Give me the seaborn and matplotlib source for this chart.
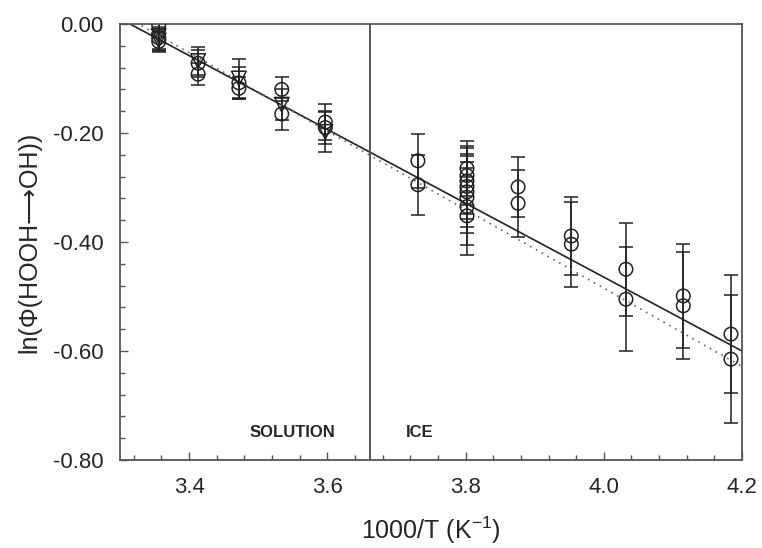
import numpy as np
import pandas as pd
import matplotlib
matplotlib.use("Agg")
import matplotlib.pyplot as plt
import seaborn as sns
from matplotlib.ticker import MultipleLocator

# Pontos em solucao (circulos)
sol_circ_x = [3.356, 3.356, 3.356, 3.413, 3.413, 3.472, 3.472, 3.534, 3.534, 3.597, 3.597]
sol_circ_y = [-0.003, -0.025, -0.032, -0.072, -0.092, -0.108, -0.118, -0.120, -0.165, -0.180, -0.190]
sol_circ_err = [0.02, 0.02, 0.02, 0.025, 0.02, 0.03, 0.02, 0.022, 0.03, 0.033, 0.03]

# Pontos em solucao (triangulos)
sol_tri_x = [3.356, 3.356, 3.413, 3.472, 3.534, 3.597]
sol_tri_y = [-0.022, -0.030, -0.068, -0.100, -0.148, -0.198]
sol_tri_err = [0.025, 0.02, 0.025, 0.035, 0.028, 0.037]

# Pontos no gelo
ice_x = [3.731, 3.731,
         3.802, 3.802, 3.802, 3.802, 3.802, 3.802, 3.802, 3.802,
         3.876, 3.876, 3.953, 3.953, 4.032, 4.032, 4.115, 4.115, 4.184, 4.184]
ice_y = [-0.251, -0.295,
         -0.265, -0.278, -0.288, -0.298, -0.308, -0.318, -0.335, -0.352,
         -0.299, -0.329, -0.389, -0.404, -0.450, -0.505, -0.499, -0.517, -0.569, -0.615]
ice_err = [0.05, 0.055,
           0.05, 0.055, 0.06, 0.06, 0.065, 0.065, 0.07, 0.072,
           0.055, 0.061, 0.072, 0.078, 0.085, 0.095, 0.095, 0.098, 0.108, 0.117]

# Ajustes lineares (inclinacao, intercepto)
fit_solid = (-0.6776, 2.2459)
fit_dotted = (-0.720, 2.3954)
fit_range = [3.3145, 4.2]
T_FUSAO = 1000 / 273.15

sns.set_theme(style="ticks")
plt.rcParams['font.family'] = ['Liberation Sans', 'DejaVu Sans']
plt.rcParams['mathtext.fontset'] = 'custom'
plt.rcParams['mathtext.rm'] = 'Liberation Sans'
plt.rcParams['mathtext.it'] = 'Liberation Sans'

fig = plt.figure(figsize=(7.62, 5.48), dpi=100)
ax = fig.add_axes([0.1575, 0.1606, 0.8163, 0.7956])

# Barras de erro
ebkw = dict(fmt='none', ecolor='#222222', elinewidth=1.1, capsize=5, capthick=1.1, zorder=2)
ax.errorbar(sol_circ_x, sol_circ_y, yerr=sol_circ_err, **ebkw)
ax.errorbar(sol_tri_x, sol_tri_y, yerr=sol_tri_err, **ebkw)
ax.errorbar(ice_x, ice_y, yerr=ice_err, **ebkw)

df_circ = pd.DataFrame({'x': sol_circ_x + ice_x, 'y': sol_circ_y + ice_y})
df_tri = pd.DataFrame({'x': sol_tri_x, 'y': sol_tri_y})
sns.scatterplot(data=df_circ, x='x', y='y', marker='o', s=95, facecolor='none',
                edgecolor='#222222', linewidth=1.1, ax=ax, zorder=3)
sns.scatterplot(data=df_tri, x='x', y='y', marker='v', s=110, facecolor='none',
                edgecolor='#222222', linewidth=1.1, ax=ax, zorder=3)

# Retas de ajuste
xs = np.linspace(fit_range[0], fit_range[1], 50)
sns.lineplot(x=xs, y=fit_solid[0] * xs + fit_solid[1], color='#222222', linewidth=1.2, ax=ax)
sns.lineplot(x=xs, y=fit_dotted[0] * xs + fit_dotted[1], color='#666666', linewidth=1.2,
             linestyle=(0, (1, 3)), ax=ax)

ax.axvline(T_FUSAO, color='#555555', linewidth=1.4)
ax.text(3.550, -0.75, 'SOLUTION', fontsize=12, fontweight='bold', ha='center', va='center')
ax.text(3.713, -0.75, 'ICE', fontsize=12, fontweight='bold', ha='left', va='center')

ax.set_xlim(3.3, 4.2)
ax.set_ylim(-0.8, 0.0)
ax.xaxis.set_major_locator(MultipleLocator(0.2))
ax.xaxis.set_minor_locator(MultipleLocator(0.04))
ax.yaxis.set_major_locator(MultipleLocator(0.2))
ax.yaxis.set_minor_locator(MultipleLocator(0.04))
ax.set_xticks([3.4, 3.6, 3.8, 4.0, 4.2])
ax.set_xticklabels(['3.4', '3.6', '3.8', '4.0', '4.2'])
ax.set_yticks([0.0, -0.2, -0.4, -0.6, -0.8])
ax.set_yticklabels(['0.00', '-0.20', '-0.40', '-0.60', '-0.80'])
ax.tick_params(which='major', direction='in', length=6, width=1, labelsize=16, pad=12,
               color='#555555')
ax.tick_params(which='minor', direction='in', length=3.5, width=1, color='#555555')
for s in ax.spines.values():
    s.set_color('#555555')
    s.set_linewidth(1.3)

ax.set_xlabel('1000/T (K$^{-1}$)', fontsize=18, labelpad=12)
ax.set_ylabel('ln(\u03a6(HOOH\u27f6OH))', fontsize=18, labelpad=8,
              family=['Liberation Sans', 'DejaVu Sans'])

fig.savefig('out.png', dpi=100)
